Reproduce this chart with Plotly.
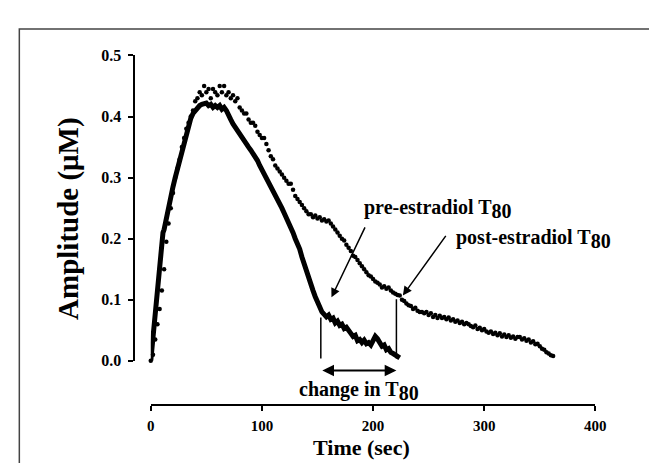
import plotly.graph_objects as go

# ---------------- data ----------------
pre_time = [0, 1, 2, 3, 4, 5, 6, 7, 8, 9, 10, 11, 12, 13, 14, 16, 18, 20, 22, 24,
            26, 28, 30, 32, 34, 36, 38, 40, 42, 44, 46, 48, 50, 52, 54, 56, 58, 60, 62, 64,
            66, 68, 70, 72, 74, 76, 78, 80, 82, 84, 86, 88, 90, 92, 94, 96, 98, 100, 102, 104,
            106, 108, 110, 112, 114, 116, 118, 120, 122, 124, 126, 128, 130, 132, 134, 136, 138, 140, 142, 144,
            146, 148, 150, 152, 154, 156, 158, 160, 162, 164, 166, 168, 170, 172, 174, 176, 178, 180, 182, 184,
            186, 188, 190, 192, 194, 196, 198, 200, 202, 204, 206, 208, 210, 212, 214, 216, 218, 220, 222, 224]
pre_amp = [0.0, 0.02, 0.04, 0.06, 0.08, 0.10, 0.12, 0.14, 0.165, 0.19, 0.205, 0.21, 0.215, 0.225, 0.235, 0.25, 0.265, 0.285, 0.30, 0.315,
           0.33, 0.345, 0.36, 0.375, 0.388, 0.397, 0.405, 0.41, 0.415, 0.418, 0.42, 0.42, 0.422, 0.418, 0.42, 0.415, 0.418, 0.415, 0.418, 0.412,
           0.415, 0.41, 0.40, 0.395, 0.388, 0.382, 0.377, 0.372, 0.367, 0.36, 0.355, 0.35, 0.345, 0.34, 0.335, 0.328, 0.32, 0.313, 0.307, 0.30,
           0.295, 0.288, 0.282, 0.275, 0.268, 0.26, 0.25, 0.242, 0.235, 0.227, 0.218, 0.21, 0.20, 0.193, 0.183, 0.17, 0.158, 0.145, 0.135, 0.125,
           0.115, 0.105, 0.096, 0.088, 0.08, 0.076, 0.072, 0.075, 0.068, 0.07, 0.062, 0.065, 0.058, 0.06, 0.053, 0.055, 0.048, 0.045, 0.04, 0.042,
           0.033, 0.035, 0.03, 0.034, 0.028, 0.03, 0.026, 0.032, 0.04, 0.036, 0.028, 0.024, 0.026, 0.018, 0.02, 0.014, 0.012, 0.01, 0.008, 0.005]

post_time = [0, 2, 4, 6, 8, 10, 12, 14, 16, 18, 20, 22, 24, 26, 28, 30, 32, 34, 36, 38,
             40, 42, 44, 46, 48, 50, 52, 54, 56, 58, 60, 62, 64, 66, 68, 70, 72, 74, 76, 78,
             80, 82, 84, 86, 88, 90, 92, 94, 96, 98, 100, 102, 104, 106, 108, 110, 112, 114, 116, 118,
             120, 122, 124, 126, 128, 130, 132, 134, 136, 138, 140, 142, 144, 146, 148, 150, 152, 154, 156, 158,
             160, 162, 164, 166, 168, 170, 172, 174, 176, 178, 180, 182, 184, 186, 188, 190, 192, 194, 196, 198,
             200, 202, 204, 206, 208, 210, 212, 214, 216, 218, 220, 222, 224, 226, 228, 230, 232, 234, 236, 238,
             240, 242, 244, 246, 248, 250, 252, 254, 256, 258, 260, 262, 264, 266, 268, 270, 272, 274, 276, 278,
             280, 282, 284, 286, 288, 290, 292, 294, 296, 298, 300, 302, 304, 306, 308, 310, 312, 314, 316, 318,
             320, 322, 324, 326, 328, 330, 332, 334, 336, 338, 340, 342, 344, 346, 348, 350, 352, 354, 356, 358,
             360, 362]
post_amp = [0.0, 0.01, 0.035, 0.06, 0.085, 0.115, 0.15, 0.195, 0.225, 0.25, 0.275, 0.30, 0.315, 0.33, 0.35, 0.365, 0.38, 0.39, 0.40, 0.41,
            0.425, 0.43, 0.44, 0.435, 0.45, 0.44, 0.445, 0.43, 0.445, 0.44, 0.435, 0.45, 0.44, 0.45, 0.435, 0.44, 0.43, 0.435, 0.425, 0.43,
            0.415, 0.41, 0.405, 0.405, 0.395, 0.39, 0.39, 0.385, 0.375, 0.37, 0.365, 0.365, 0.355, 0.345, 0.335, 0.33, 0.32, 0.315, 0.31, 0.305,
            0.30, 0.295, 0.29, 0.29, 0.28, 0.27, 0.265, 0.26, 0.255, 0.25, 0.245, 0.24, 0.24, 0.235, 0.238, 0.233, 0.235, 0.23, 0.232, 0.228,
            0.23, 0.225, 0.22, 0.215, 0.21, 0.205, 0.20, 0.197, 0.19, 0.185, 0.18, 0.172, 0.17, 0.165, 0.16, 0.155, 0.15, 0.145, 0.14, 0.138,
            0.134, 0.13, 0.128, 0.125, 0.12, 0.122, 0.118, 0.12, 0.115, 0.112, 0.11, 0.108, 0.107, 0.10, 0.098, 0.094, 0.091, 0.09, 0.085, 0.087,
            0.082, 0.08, 0.08, 0.078, 0.08, 0.075, 0.078, 0.072, 0.075, 0.07, 0.074, 0.07, 0.072, 0.068, 0.071, 0.066, 0.068, 0.064, 0.066, 0.062,
            0.064, 0.06, 0.062, 0.06, 0.057, 0.055, 0.058, 0.052, 0.054, 0.05, 0.052, 0.048, 0.046, 0.048, 0.044, 0.046, 0.042, 0.045, 0.04, 0.043,
            0.039, 0.042, 0.038, 0.04, 0.036, 0.039, 0.039, 0.035, 0.037, 0.033, 0.035, 0.03, 0.032, 0.027, 0.028, 0.024, 0.02, 0.018, 0.014, 0.012,
            0.009, 0.008]

x_ticks = [0, 100, 200, 300, 400]
y_ticks = [0.0, 0.1, 0.2, 0.3, 0.4, 0.5]
y_tick_text = ["0.0", "0.1", "0.2", "0.3", "0.4", "0.5"]

pre_T80 = 153      # sec
pre_T80_amp = 0.071
post_T80 = 221     # sec
post_T80_amp = 0.101

# ---------------- figure ----------------
W, H = 657, 463
SERIF = "Liberation Serif, Times New Roman, serif"


def px_x(p):
    return p / W


def px_y(p):
    return (H - p) / H


T80 = 'T<sub><span style="font-size:20px">80</span></sub>'

fig = go.Figure()
fig.add_trace(go.Scatter(x=pre_time, y=pre_amp, mode="lines",
                         line=dict(color="black", width=5),
                         cliponaxis=False, showlegend=False))
fig.add_trace(go.Scatter(x=post_time, y=post_amp, mode="markers",
                         marker=dict(color="black", size=4.5),
                         cliponaxis=False, showlegend=False))

fig.update_layout(
    width=W, height=H,
    margin=dict(l=0, r=0, t=0, b=0),
    paper_bgcolor="white", plot_bgcolor="white",
    showlegend=False,
    xaxis=dict(domain=[px_x(142), px_x(597)], range=[0, 400],
               anchor="free", position=px_y(404),
               showline=True, linecolor="black", linewidth=1.5,
               ticks="outside", ticklen=5, tickwidth=1.5, tickcolor="black",
               tickvals=x_ticks, showgrid=False, zeroline=False,
               tickfont=dict(family=SERIF, size=15, color="black", weight="bold"),
               ticklabelstandoff=2),
    yaxis=dict(domain=[px_y(358), px_y(41)], range=[0, 0.5],
               anchor="free", position=px_x(125),
               showline=True, linecolor="black", linewidth=1.5,
               ticks="outside", ticklen=5, tickwidth=1.5, tickcolor="black",
               tickvals=y_ticks, ticktext=y_tick_text,
               showgrid=False, zeroline=False,
               tickfont=dict(family=SERIF, size=16, color="black", weight="bold"),
               ticklabelstandoff=4),
)

# frame line (top and left edges visible)
fig.add_shape(type="rect", xref="paper", yref="paper",
              x0=px_x(7.5), x1=1.2, y0=-0.2, y1=px_y(13.5),
              line=dict(color="#444444", width=1.5), fillcolor="rgba(0,0,0,0)")

# axis titles
fig.add_annotation(xref="paper", yref="paper", x=px_x(358), y=px_y(448),
                   xanchor="center", yanchor="middle",
                   text="Time (sec)", showarrow=False,
                   font=dict(family=SERIF, size=22, color="black", weight="bold"))
fig.add_annotation(xref="paper", yref="paper", x=px_x(58), y=px_y(210),
                   xanchor="center", yanchor="middle",
                   text="Amplitude (μM)", textangle=-90, showarrow=False,
                   font=dict(family=SERIF, size=29, color="black", weight="bold"))

# T80 bracket lines
fig.add_shape(type="line", xref="x", yref="y", x0=pre_T80, x1=pre_T80, y0=0.004, y1=pre_T80_amp,
              line=dict(color="black", width=1.5))
fig.add_shape(type="line", xref="x", yref="y", x0=post_T80, x1=post_T80, y0=0.004, y1=post_T80_amp,
              line=dict(color="black", width=1.5))

# double arrow "change in T80"
fig.add_annotation(xref="x", yref="paper", x=post_T80, y=px_y(368),
                   axref="x", ayref="pixel", ax=pre_T80, ay=0,
                   text="", showarrow=True, arrowside="end+start",
                   arrowhead=2, startarrowhead=2, arrowsize=1.3, startarrowsize=1.3,
                   arrowwidth=1.8, arrowcolor="black")
fig.add_annotation(xref="x", yref="paper", x=(pre_T80 + post_T80) / 2, y=px_y(389),
                   xanchor="center", yanchor="middle",
                   text="change in " + T80, showarrow=False,
                   font=dict(family=SERIF, size=20, color="black", weight="bold"))

# pre / post labels with arrows
fig.add_annotation(xref="x", yref="y", x=162.6, y=0.104,
                   axref="x", ayref="y", ax=193.4, ay=0.221,
                   text="", showarrow=True, arrowhead=2, arrowsize=1.2,
                   arrowwidth=1.5, arrowcolor="black")
fig.add_annotation(xref="x", yref="y", x=258.5, y=0.249,
                   xanchor="center", yanchor="middle",
                   text="pre-estradiol " + T80, showarrow=False,
                   font=dict(family=SERIF, size=20, color="black", weight="bold"))
fig.add_annotation(xref="x", yref="y", x=226.8, y=0.107,
                   axref="x", ayref="y", ax=266.4, ay=0.207,
                   text="", showarrow=True, arrowhead=2, arrowsize=1.2,
                   arrowwidth=1.5, arrowcolor="black")
fig.add_annotation(xref="x", yref="y", x=344.6, y=0.199,
                   xanchor="center", yanchor="middle",
                   text="post-estradiol " + T80, showarrow=False,
                   font=dict(family=SERIF, size=20, color="black", weight="bold"))

fig.write_html("out.html")
